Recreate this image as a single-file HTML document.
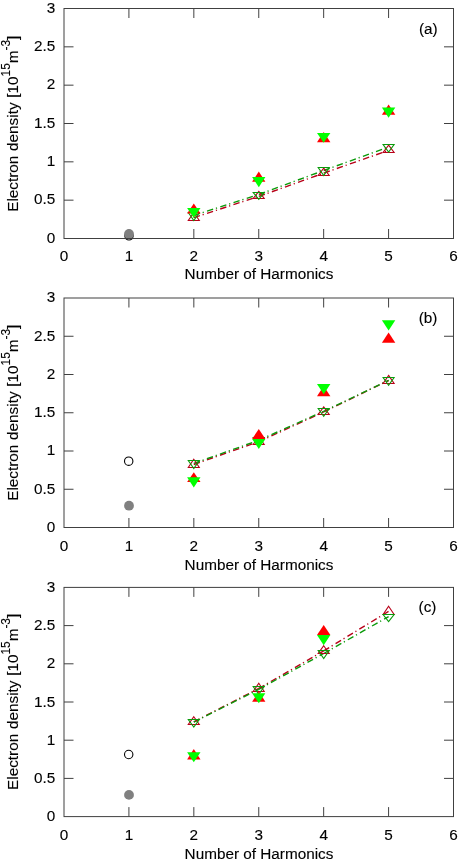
<!DOCTYPE html>
<html><head><meta charset="utf-8"><title>Electron density vs number of harmonics</title>
<style>
html,body{margin:0;padding:0;background:#fff;}
svg{display:block;}
text{font-family:"Liberation Sans",sans-serif;fill:#000;stroke:#000;stroke-width:0.12px;}
</style></head><body>
<svg width="458" height="865" viewBox="0 0 458 865">
<rect x="0" y="0" width="458" height="865" fill="#fff"/>

<g>
<path d="M128.91666666666669 238.5V229.0M128.91666666666669 8.5V18.0M193.83333333333334 238.5V229.0M193.83333333333334 8.5V18.0M258.75 238.5V229.0M258.75 8.5V18.0M323.6666666666667 238.5V229.0M323.6666666666667 8.5V18.0M388.58333333333337 238.5V229.0M388.58333333333337 8.5V18.0M64.0 200.17H73.5M453.5 200.17H444.0M64.0 161.83H73.5M453.5 161.83H444.0M64.0 123.50H73.5M453.5 123.50H444.0M64.0 85.17H73.5M453.5 85.17H444.0M64.0 46.83H73.5M453.5 46.83H444.0" stroke="#404040" stroke-width="1" fill="none"/>
<text x="55.3" y="242.60" font-size="15.3" text-anchor="end">0</text>
<text x="55.3" y="204.27" font-size="15.3" text-anchor="end">0.5</text>
<text x="55.3" y="165.93" font-size="15.3" text-anchor="end">1</text>
<text x="55.3" y="127.60" font-size="15.3" text-anchor="end">1.5</text>
<text x="55.3" y="89.27" font-size="15.3" text-anchor="end">2</text>
<text x="55.3" y="50.93" font-size="15.3" text-anchor="end">2.5</text>
<text x="55.3" y="12.60" font-size="15.3" text-anchor="end">3</text>
<text x="64.0" y="260.80" font-size="15.3" text-anchor="middle">0</text>
<text x="128.91666666666669" y="260.80" font-size="15.3" text-anchor="middle">1</text>
<text x="193.83333333333334" y="260.80" font-size="15.3" text-anchor="middle">2</text>
<text x="258.75" y="260.80" font-size="15.3" text-anchor="middle">3</text>
<text x="323.6666666666667" y="260.80" font-size="15.3" text-anchor="middle">4</text>
<text x="388.58333333333337" y="260.80" font-size="15.3" text-anchor="middle">5</text>
<text x="453.5" y="260.80" font-size="15.3" text-anchor="middle">6</text>
<text x="259" y="278.90" font-size="15.3" text-anchor="middle">Number of Harmonics</text>
<text transform="translate(18 211.80) rotate(-90)" font-size="15.3" word-spacing="0.5">Electron density [10<tspan font-size="11.86" dy="-8">15</tspan><tspan dy="8">m</tspan><tspan font-size="11.86" dy="-8">-3</tspan><tspan dy="8">]</tspan></text>
<text x="428.3" y="34.0" font-size="15.3" text-anchor="middle">(a)</text>
<line x1="193.8" y1="217.60" x2="258.8" y2="196.43" stroke="#b80018" stroke-width="1.4" stroke-dasharray="6.4 2.9 1.2 3.4"/>
<line x1="258.8" y1="196.43" x2="323.7" y2="173.13" stroke="#b80018" stroke-width="1.4" stroke-dasharray="6.4 2.9 1.2 3.4"/>
<line x1="323.7" y1="173.13" x2="388.6" y2="150.37" stroke="#b80018" stroke-width="1.4" stroke-dasharray="6.4 2.9 1.2 3.4"/>
<line x1="193.8" y1="215.40" x2="258.8" y2="194.50" stroke="#0a9a0a" stroke-width="1.4" stroke-dasharray="6.4 2.9 1.2 3.4"/>
<line x1="258.8" y1="194.50" x2="323.7" y2="170.47" stroke="#0a9a0a" stroke-width="1.4" stroke-dasharray="6.4 2.9 1.2 3.4"/>
<line x1="323.7" y1="170.47" x2="388.6" y2="147.07" stroke="#0a9a0a" stroke-width="1.4" stroke-dasharray="6.4 2.9 1.2 3.4"/>
<circle cx="129" cy="235.8" r="4.2" fill="none" stroke="#000" stroke-width="1.1"/>
<circle cx="129" cy="233.9" r="4.9" fill="#808080"/>
<polygon points="193.8,212.5 199.3,220.5 188.3,220.5" fill="none" stroke="#b80018" stroke-width="1.1"/>
<polygon points="258.8,191.4 264.2,198.5 253.2,198.5" fill="none" stroke="#b80018" stroke-width="1.1"/>
<polygon points="323.7,168.1 329.2,175.5 318.2,175.5" fill="none" stroke="#b80018" stroke-width="1.1"/>
<polygon points="388.6,145.2 394.1,152.5 383.1,152.5" fill="none" stroke="#b80018" stroke-width="1.1"/>
<polygon points="188.3,212.5 199.3,212.5 193.8,220.5" fill="none" stroke="#0a9a0a" stroke-width="1.1"/>
<polygon points="253.2,192.5 264.2,192.5 258.8,199.4" fill="none" stroke="#0a9a0a" stroke-width="1.1"/>
<polygon points="318.2,167.5 329.2,167.5 323.7,175.5" fill="none" stroke="#0a9a0a" stroke-width="1.1"/>
<polygon points="383.1,144.5 394.1,144.5 388.6,152.1" fill="none" stroke="#0a9a0a" stroke-width="1.1"/>
<polygon points="193.8,203.5 200.5,213.6 187.1,213.6" fill="#ff0000"/>
<polygon points="258.8,171.5 265.4,181.8 252.1,181.8" fill="#ff0000"/>
<polygon points="323.7,132.0 330.4,142.3 317.0,142.3" fill="#ff0000"/>
<polygon points="388.6,104.4 395.3,114.7 381.9,114.7" fill="#ff0000"/>
<polygon points="187.1,207.9 200.5,207.9 193.8,217.9" fill="#00ff00"/>
<polygon points="252.1,176.9 265.4,176.9 258.8,187.3" fill="#00ff00"/>
<polygon points="317.0,133.0 330.4,133.0 323.7,142.8" fill="#00ff00"/>
<polygon points="381.9,107.4 395.3,107.4 388.6,117.7" fill="#00ff00"/>
<rect x="64.0" y="8.5" width="389.5" height="230.0" fill="none" stroke="#404040" stroke-width="1"/>
</g>
<g>
<path d="M128.91666666666669 527.5V518.0M128.91666666666669 298.0V307.5M193.83333333333334 527.5V518.0M193.83333333333334 298.0V307.5M258.75 527.5V518.0M258.75 298.0V307.5M323.6666666666667 527.5V518.0M323.6666666666667 298.0V307.5M388.58333333333337 527.5V518.0M388.58333333333337 298.0V307.5M64.0 489.25H73.5M453.5 489.25H444.0M64.0 451.00H73.5M453.5 451.00H444.0M64.0 412.75H73.5M453.5 412.75H444.0M64.0 374.50H73.5M453.5 374.50H444.0M64.0 336.25H73.5M453.5 336.25H444.0" stroke="#404040" stroke-width="1" fill="none"/>
<text x="55.3" y="531.80" font-size="15.3" text-anchor="end">0</text>
<text x="55.3" y="493.55" font-size="15.3" text-anchor="end">0.5</text>
<text x="55.3" y="455.30" font-size="15.3" text-anchor="end">1</text>
<text x="55.3" y="417.05" font-size="15.3" text-anchor="end">1.5</text>
<text x="55.3" y="378.80" font-size="15.3" text-anchor="end">2</text>
<text x="55.3" y="340.55" font-size="15.3" text-anchor="end">2.5</text>
<text x="55.3" y="302.30" font-size="15.3" text-anchor="end">3</text>
<text x="64.0" y="550.50" font-size="15.3" text-anchor="middle">0</text>
<text x="128.91666666666669" y="550.50" font-size="15.3" text-anchor="middle">1</text>
<text x="193.83333333333334" y="550.50" font-size="15.3" text-anchor="middle">2</text>
<text x="258.75" y="550.50" font-size="15.3" text-anchor="middle">3</text>
<text x="323.6666666666667" y="550.50" font-size="15.3" text-anchor="middle">4</text>
<text x="388.58333333333337" y="550.50" font-size="15.3" text-anchor="middle">5</text>
<text x="453.5" y="550.50" font-size="15.3" text-anchor="middle">6</text>
<text x="259" y="569.70" font-size="15.3" text-anchor="middle">Number of Harmonics</text>
<text transform="translate(18 500.80) rotate(-90)" font-size="15.3" word-spacing="0.5">Electron density [10<tspan font-size="11.86" dy="-8">15</tspan><tspan dy="8">m</tspan><tspan font-size="11.86" dy="-8">-3</tspan><tspan dy="8">]</tspan></text>
<text x="428.0" y="322.5" font-size="15.3" text-anchor="middle">(b)</text>
<line x1="193.8" y1="464.47" x2="258.8" y2="441.67" stroke="#b80018" stroke-width="1.4" stroke-dasharray="6.4 2.9 1.2 3.4"/>
<line x1="258.8" y1="441.67" x2="323.7" y2="411.93" stroke="#b80018" stroke-width="1.4" stroke-dasharray="6.4 2.9 1.2 3.4"/>
<line x1="323.7" y1="411.93" x2="388.6" y2="380.50" stroke="#b80018" stroke-width="1.4" stroke-dasharray="6.4 2.9 1.2 3.4"/>
<line x1="193.8" y1="463.40" x2="258.8" y2="440.30" stroke="#0a9a0a" stroke-width="1.4" stroke-dasharray="6.4 2.9 1.2 3.4"/>
<line x1="258.8" y1="440.30" x2="323.7" y2="411.27" stroke="#0a9a0a" stroke-width="1.4" stroke-dasharray="6.4 2.9 1.2 3.4"/>
<line x1="323.7" y1="411.27" x2="388.6" y2="380.30" stroke="#0a9a0a" stroke-width="1.4" stroke-dasharray="6.4 2.9 1.2 3.4"/>
<circle cx="128.7" cy="461.2" r="4.2" fill="none" stroke="#000" stroke-width="1.1"/>
<circle cx="129" cy="505.7" r="4.9" fill="#808080"/>
<polygon points="193.8,459.3 199.3,467.5 188.3,467.5" fill="none" stroke="#b80018" stroke-width="1.1"/>
<polygon points="258.8,436.5 264.2,444.5 253.2,444.5" fill="none" stroke="#b80018" stroke-width="1.1"/>
<polygon points="323.7,406.9 329.2,414.5 318.2,414.5" fill="none" stroke="#b80018" stroke-width="1.1"/>
<polygon points="388.6,375.4 394.1,383.5 383.1,383.5" fill="none" stroke="#b80018" stroke-width="1.1"/>
<polygon points="188.3,460.5 199.3,460.5 193.8,468.5" fill="none" stroke="#0a9a0a" stroke-width="1.1"/>
<polygon points="253.2,437.5 264.2,437.5 258.8,445.4" fill="none" stroke="#0a9a0a" stroke-width="1.1"/>
<polygon points="318.2,408.5 329.2,408.5 323.7,416.3" fill="none" stroke="#0a9a0a" stroke-width="1.1"/>
<polygon points="383.1,377.5 394.1,377.5 388.6,385.4" fill="none" stroke="#0a9a0a" stroke-width="1.1"/>
<polygon points="193.8,472.3 200.5,482.1 187.1,482.1" fill="#ff0000"/>
<polygon points="258.8,429.1 265.4,438.9 252.1,438.9" fill="#ff0000"/>
<polygon points="323.7,386.0 330.4,396.2 317.0,396.2" fill="#ff0000"/>
<polygon points="388.6,332.5 395.3,342.7 381.9,342.7" fill="#ff0000"/>
<polygon points="187.1,477.2 200.5,477.2 193.8,487.6" fill="#00ff00"/>
<polygon points="252.1,438.9 265.4,438.9 258.8,449.1" fill="#00ff00"/>
<polygon points="317.0,384.0 330.4,384.0 323.7,394.2" fill="#00ff00"/>
<polygon points="381.9,320.3 395.3,320.3 388.6,330.4" fill="#00ff00"/>
<rect x="64.0" y="298.0" width="389.5" height="229.5" fill="none" stroke="#404040" stroke-width="1"/>
</g>
<g>
<path d="M128.91666666666669 816.6V807.1M128.91666666666669 587.4V596.9M193.83333333333334 816.6V807.1M193.83333333333334 587.4V596.9M258.75 816.6V807.1M258.75 587.4V596.9M323.6666666666667 816.6V807.1M323.6666666666667 587.4V596.9M388.58333333333337 816.6V807.1M388.58333333333337 587.4V596.9M64.0 778.40H73.5M453.5 778.40H444.0M64.0 740.20H73.5M453.5 740.20H444.0M64.0 702.00H73.5M453.5 702.00H444.0M64.0 663.80H73.5M453.5 663.80H444.0M64.0 625.60H73.5M453.5 625.60H444.0" stroke="#404040" stroke-width="1" fill="none"/>
<text x="55.3" y="821.10" font-size="15.3" text-anchor="end">0</text>
<text x="55.3" y="782.90" font-size="15.3" text-anchor="end">0.5</text>
<text x="55.3" y="744.70" font-size="15.3" text-anchor="end">1</text>
<text x="55.3" y="706.50" font-size="15.3" text-anchor="end">1.5</text>
<text x="55.3" y="668.30" font-size="15.3" text-anchor="end">2</text>
<text x="55.3" y="630.10" font-size="15.3" text-anchor="end">2.5</text>
<text x="55.3" y="591.90" font-size="15.3" text-anchor="end">3</text>
<text x="64.0" y="839.90" font-size="15.3" text-anchor="middle">0</text>
<text x="128.91666666666669" y="839.90" font-size="15.3" text-anchor="middle">1</text>
<text x="193.83333333333334" y="839.90" font-size="15.3" text-anchor="middle">2</text>
<text x="258.75" y="839.90" font-size="15.3" text-anchor="middle">3</text>
<text x="323.6666666666667" y="839.90" font-size="15.3" text-anchor="middle">4</text>
<text x="388.58333333333337" y="839.90" font-size="15.3" text-anchor="middle">5</text>
<text x="453.5" y="839.90" font-size="15.3" text-anchor="middle">6</text>
<text x="259" y="859.30" font-size="15.3" text-anchor="middle">Number of Harmonics</text>
<text transform="translate(18 789.90) rotate(-90)" font-size="15.3" word-spacing="0.5">Electron density [10<tspan font-size="11.86" dy="-8">15</tspan><tspan dy="8">m</tspan><tspan font-size="11.86" dy="-8">-3</tspan><tspan dy="8">]</tspan></text>
<text x="427.5" y="611.7" font-size="15.3" text-anchor="middle">(c)</text>
<line x1="193.8" y1="721.80" x2="258.8" y2="688.47" stroke="#b80018" stroke-width="1.4" stroke-dasharray="6.4 2.9 1.2 3.4"/>
<line x1="258.8" y1="688.47" x2="323.7" y2="650.90" stroke="#b80018" stroke-width="1.4" stroke-dasharray="6.4 2.9 1.2 3.4"/>
<line x1="323.7" y1="650.90" x2="388.6" y2="611.40" stroke="#b80018" stroke-width="1.4" stroke-dasharray="6.4 2.9 1.2 3.4"/>
<line x1="193.8" y1="722.07" x2="258.8" y2="689.30" stroke="#0a9a0a" stroke-width="1.4" stroke-dasharray="6.4 2.9 1.2 3.4"/>
<line x1="258.8" y1="689.30" x2="323.7" y2="653.50" stroke="#0a9a0a" stroke-width="1.4" stroke-dasharray="6.4 2.9 1.2 3.4"/>
<line x1="323.7" y1="653.50" x2="388.6" y2="616.57" stroke="#0a9a0a" stroke-width="1.4" stroke-dasharray="6.4 2.9 1.2 3.4"/>
<circle cx="128.7" cy="754.5" r="4.2" fill="none" stroke="#000" stroke-width="1.1"/>
<circle cx="129" cy="794.9" r="4.9" fill="#808080"/>
<polygon points="193.8,716.7 199.3,724.5 188.3,724.5" fill="none" stroke="#b80018" stroke-width="1.1"/>
<polygon points="258.8,683.3 264.2,691.5 253.2,691.5" fill="none" stroke="#b80018" stroke-width="1.1"/>
<polygon points="323.7,645.8 329.2,653.5 318.2,653.5" fill="none" stroke="#b80018" stroke-width="1.1"/>
<polygon points="388.6,606.3 394.1,614.5 383.1,614.5" fill="none" stroke="#b80018" stroke-width="1.1"/>
<polygon points="188.3,719.5 199.3,719.5 193.8,727.1" fill="none" stroke="#0a9a0a" stroke-width="1.1"/>
<polygon points="253.2,686.5 264.2,686.5 258.8,694.4" fill="none" stroke="#0a9a0a" stroke-width="1.1"/>
<polygon points="318.2,650.5 329.2,650.5 323.7,658.6" fill="none" stroke="#0a9a0a" stroke-width="1.1"/>
<polygon points="383.1,614.5 394.1,614.5 388.6,621.6" fill="none" stroke="#0a9a0a" stroke-width="1.1"/>
<polygon points="193.8,749.1 200.5,759.5 187.1,759.5" fill="#ff0000"/>
<polygon points="258.8,691.5 265.4,701.7 252.1,701.7" fill="#ff0000"/>
<polygon points="323.7,625.0 330.4,635.1 317.0,635.1" fill="#ff0000"/>
<polygon points="187.1,752.2 200.5,752.2 193.8,762.3" fill="#00ff00"/>
<polygon points="252.1,693.3 265.4,693.3 258.8,703.2" fill="#00ff00"/>
<polygon points="317.0,635.1 330.4,635.1 323.7,645.2" fill="#00ff00"/>
<rect x="64.0" y="587.4" width="389.5" height="229.20000000000005" fill="none" stroke="#404040" stroke-width="1"/>
</g>
</svg></body></html>
